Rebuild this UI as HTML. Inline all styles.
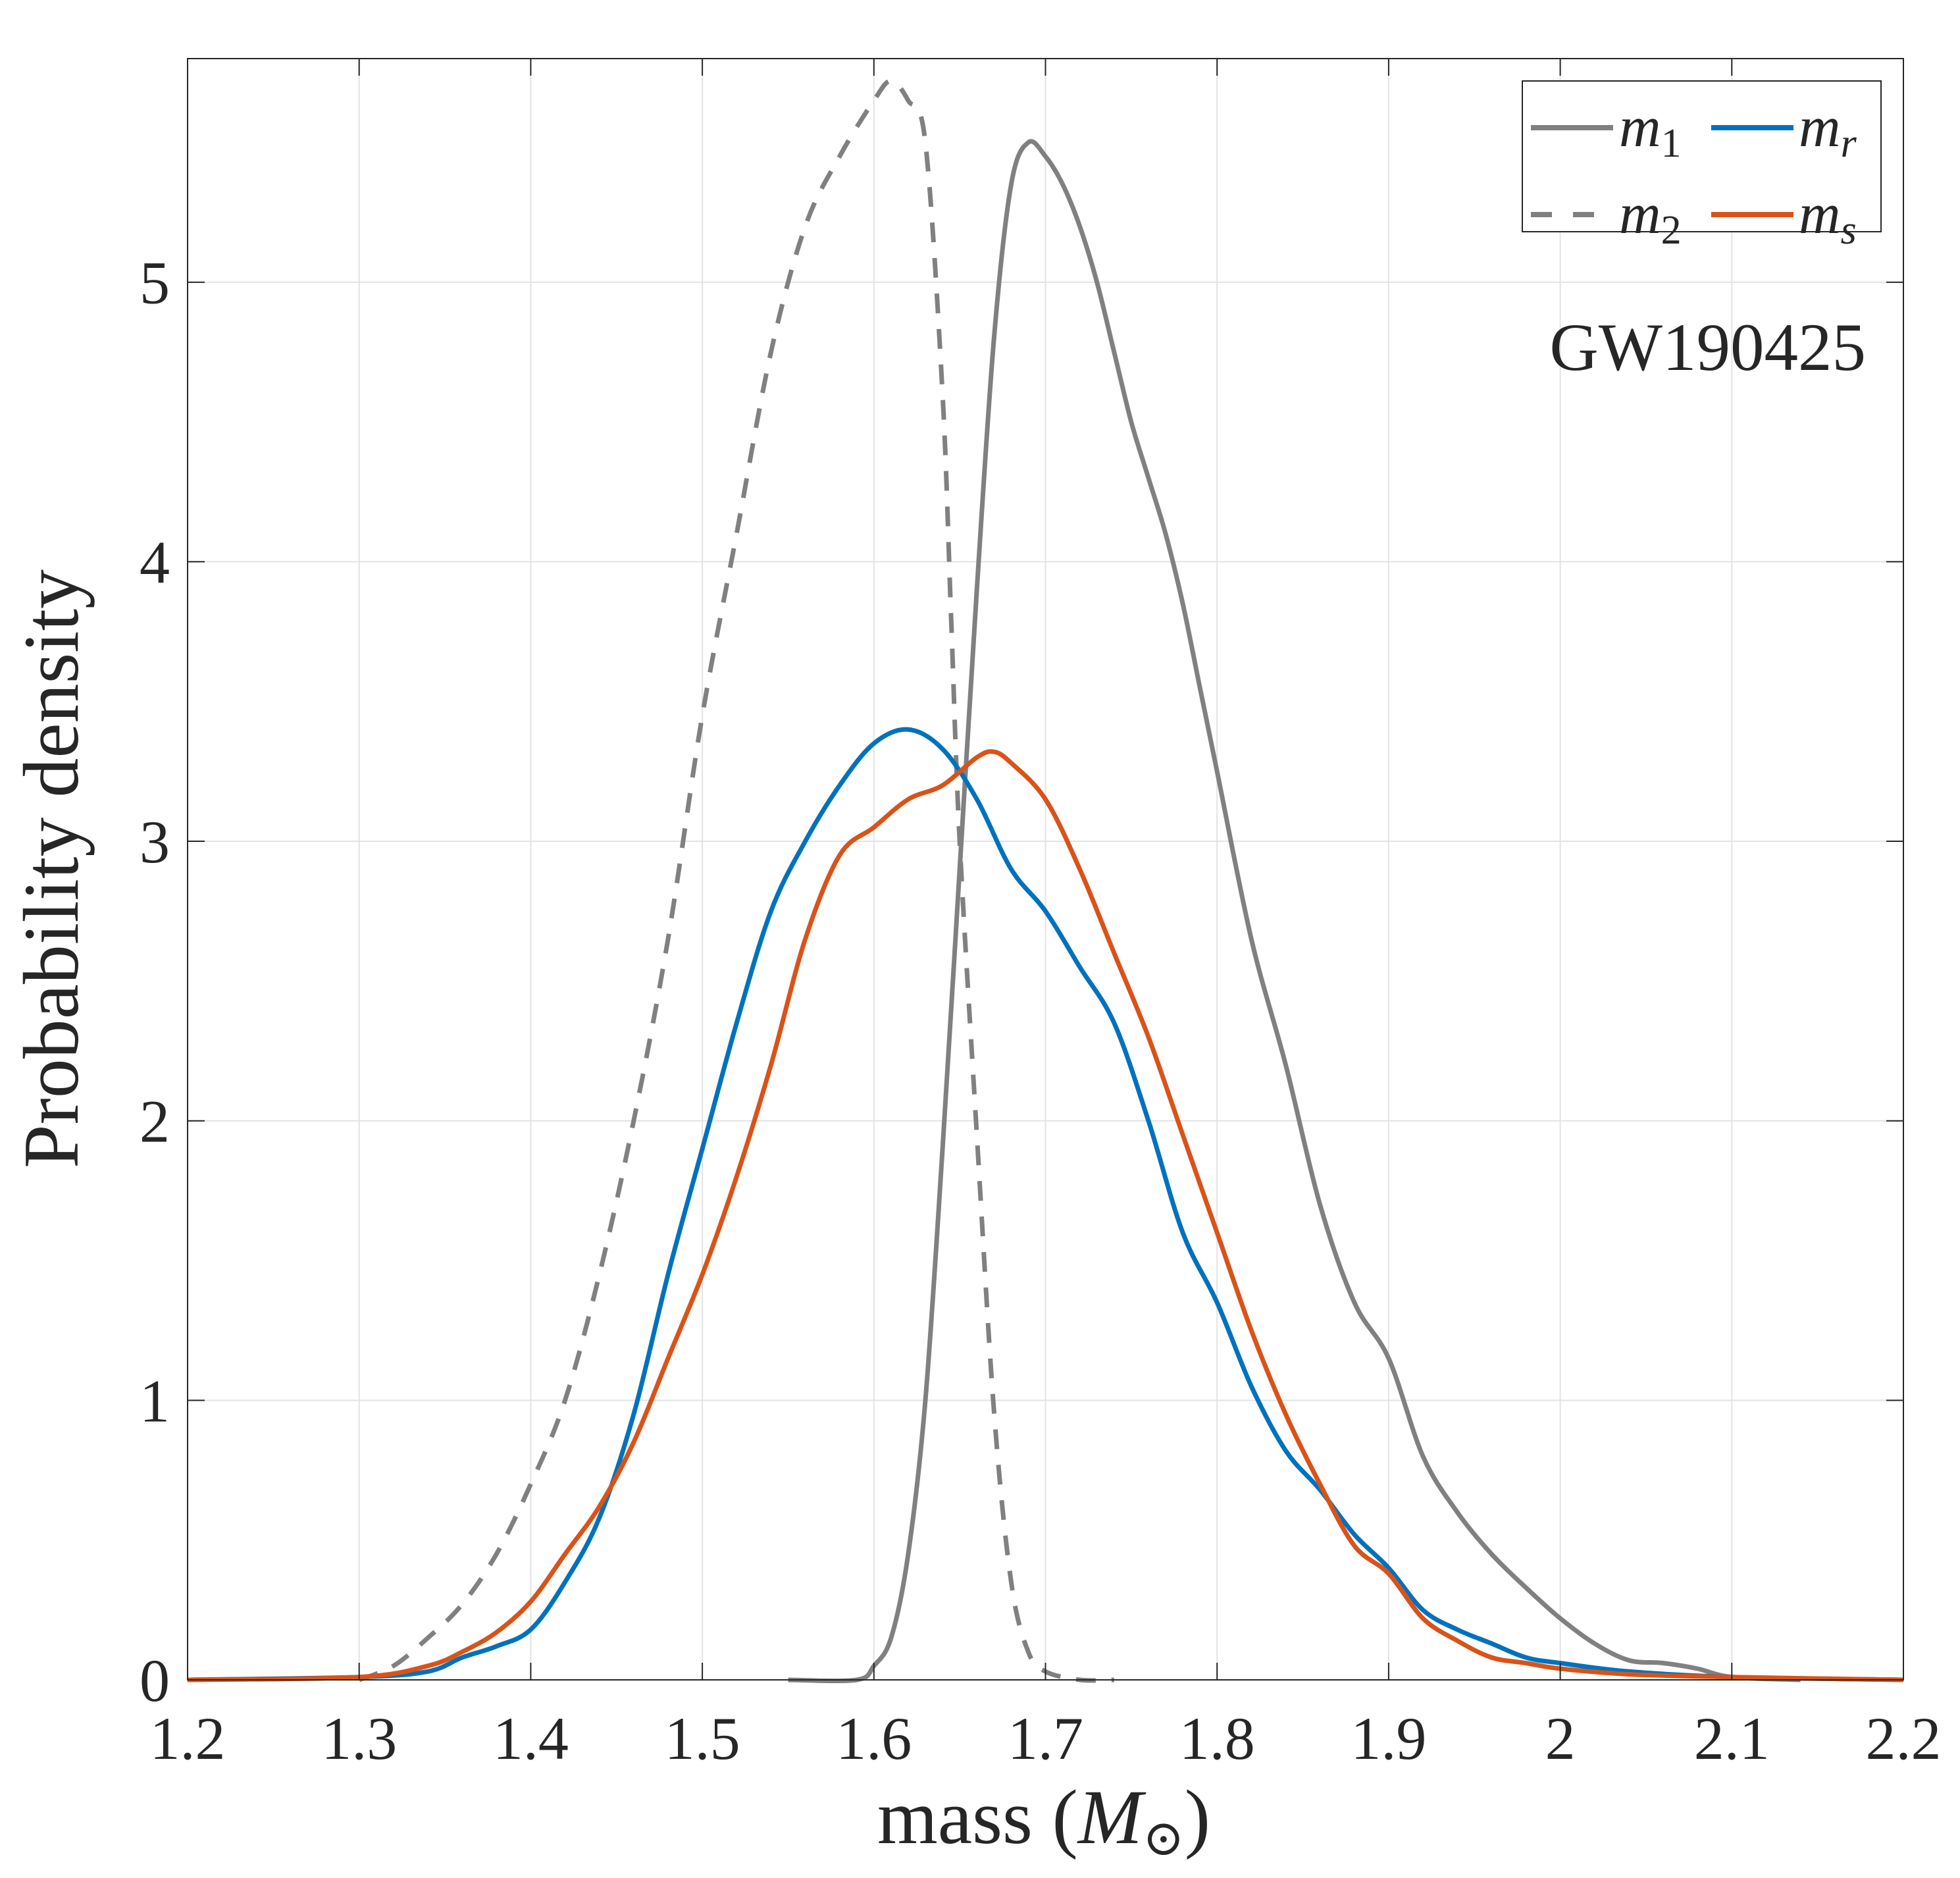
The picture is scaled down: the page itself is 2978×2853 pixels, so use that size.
<!DOCTYPE html>
<html><head><meta charset="utf-8">
<style>
html,body{margin:0;padding:0;background:#fff;}
svg{display:block;}
text{font-family:"Liberation Serif","DejaVu Serif",serif;fill:#262626;}
</style></head>
<body>
<svg id="chart" width="2978" height="2853" viewBox="0 0 2978 2853" xmlns="http://www.w3.org/2000/svg">
<rect x="0" y="0" width="2978" height="2853" fill="#fff"/>
<g id="grid"></g>
<g id="series"></g>
<g id="axes"></g>
<text x="2835" y="562" font-size="103" text-anchor="end">GW190425</text>
<text x="1586" y="2800" font-size="118" text-anchor="middle">mass (<tspan font-style="italic">M</tspan><tspan font-size="76" dy="18">⊙</tspan><tspan dy="-18">)</tspan></text>
<text transform="translate(118,1320) rotate(-90)" font-size="120" text-anchor="middle">Probability density</text>
<g>
<rect x="2313" y="123" width="545" height="229" fill="#fff" stroke="#262626" stroke-width="2"/>
<g>
<line x1="2326" y1="194" x2="2451" y2="194" stroke="#808080" stroke-width="8"/>
<text x="2460" y="222" font-size="88" font-style="italic">m<tspan font-style="normal" font-size="62" dy="16">1</tspan></text>
</g>
<g>
<line x1="2326" y1="326" x2="2451" y2="326" stroke="#808080" stroke-width="8" stroke-dasharray="32,32"/>
<text x="2460" y="354" font-size="88" font-style="italic">m<tspan font-style="normal" font-size="62" dy="16">2</tspan></text>
</g>
<g>
<line x1="2600" y1="194" x2="2725" y2="194" stroke="#0072BD" stroke-width="8"/>
<text x="2733" y="222" font-size="88" font-style="italic">m<tspan font-size="62" dy="16">r</tspan></text>
</g>
<g>
<line x1="2600" y1="326" x2="2725" y2="326" stroke="#D95319" stroke-width="8"/>
<text x="2733" y="354" font-size="88" font-style="italic">m<tspan font-size="62" dy="16">s</tspan></text>
</g>
</g>
</svg>
<script>
const xTicks = [1.2,1.3,1.4,1.5,1.6,1.7,1.8,1.9,2.0,2.1,2.2];
const xTickLabels = ["1.2","1.3","1.4","1.5","1.6","1.7","1.8","1.9","2","2.1","2.2"];
const yTicks = [0,1,2,3,4,5];
const yTickLabels = ["0","1","2","3","4","5"];
const m1X = [1.55,1.59,1.60,1.61,1.62,1.63,1.64,1.65,1.66,1.67,1.68,1.69,1.70,1.71,1.72,1.73,1.74,1.75,1.76,1.77,1.78,1.79,1.80,1.82,1.84,1.86,1.88,1.90,1.92,1.94,1.96,1.98,2.00,2.02,2.04,2.06,2.08,2.10,2.14];
const m1Y = [0,0.0,0.05,0.15,0.45,1.0,1.9,2.9,3.9,4.8,5.35,5.5,5.45,5.35,5.2,5.0,4.75,4.5,4.3,4.1,3.85,3.55,3.25,2.65,2.2,1.7,1.35,1.15,0.8,0.6,0.45,0.33,0.22,0.13,0.07,0.06,0.04,0.01,0];
const m2X = [1.30,1.32,1.34,1.36,1.38,1.40,1.42,1.44,1.46,1.48,1.50,1.52,1.54,1.56,1.58,1.60,1.61,1.62,1.63,1.64,1.645,1.65,1.66,1.67,1.68,1.69,1.70,1.72,1.74];
const m2Y = [0,0.05,0.15,0.27,0.45,0.7,1.0,1.45,2.0,2.65,3.45,4.1,4.75,5.2,5.45,5.65,5.72,5.65,5.5,4.6,3.8,3.0,1.95,0.96,0.35,0.1,0.03,0,0];
const mrX = [1.2,1.30,1.34,1.36,1.38,1.40,1.42,1.44,1.46,1.48,1.50,1.52,1.54,1.56,1.58,1.60,1.62,1.64,1.66,1.68,1.70,1.72,1.74,1.76,1.78,1.80,1.82,1.84,1.86,1.88,1.90,1.92,1.94,1.96,1.98,2.00,2.04,2.10,2.2];
const mrY = [0,0.01,0.03,0.08,0.12,0.18,0.35,0.58,0.95,1.45,1.9,2.35,2.75,3.0,3.2,3.35,3.4,3.33,3.15,2.9,2.75,2.55,2.35,2.0,1.6,1.35,1.05,0.82,0.68,0.52,0.4,0.25,0.18,0.13,0.08,0.06,0.03,0.01,0];
const msX = [1.2,1.30,1.34,1.36,1.38,1.40,1.42,1.44,1.46,1.48,1.50,1.52,1.54,1.56,1.58,1.60,1.62,1.64,1.66,1.67,1.68,1.70,1.72,1.74,1.76,1.78,1.80,1.82,1.84,1.86,1.88,1.90,1.92,1.94,1.96,1.98,2.00,2.04,2.10,2.2];
const msY = [0,0.01,0.05,0.1,0.17,0.28,0.45,0.62,0.85,1.15,1.45,1.8,2.2,2.65,2.95,3.05,3.15,3.2,3.3,3.32,3.28,3.15,2.9,2.6,2.3,1.95,1.6,1.25,0.95,0.7,0.48,0.38,0.22,0.14,0.08,0.06,0.04,0.02,0.01,0];

const L=285,R=2892,T=89,B=2552,XMIN=1.2,XMAX=2.2,YMIN=0,YMAX=5.8;
function sx(v){return L+(v-XMIN)/(XMAX-XMIN)*(R-L);}
function sy(v){return B-(v-YMIN)/(YMAX-YMIN)*(B-T);}
const NS="http://www.w3.org/2000/svg";
function mk(tag,attrs,parent){const e=document.createElementNS(NS,tag);for(const k in attrs)e.setAttribute(k,attrs[k]);parent.appendChild(e);return e;}
const grid=document.getElementById('grid'),axes=document.getElementById('axes'),series=document.getElementById('series');
xTicks.forEach((t,i)=>{
  const g=mk('line',{x1:sx(t),x2:sx(t),y1:T,y2:B,stroke:'#e3e3e3','stroke-width':2},grid);
  
  
  mk('line',{x1:sx(t),x2:sx(t),y1:B,y2:B-26,stroke:'#262626','stroke-width':2},axes);
  mk('line',{x1:sx(t),x2:sx(t),y1:T,y2:T+26,stroke:'#262626','stroke-width':2},axes);
  const tx=mk('text',{x:sx(t),y:2672,'font-size':92,'text-anchor':'middle'},axes);
  tx.textContent=xTickLabels[i];
  
  
});
yTicks.forEach((t,i)=>{
  const g=mk('line',{x1:L,x2:R,y1:sy(t),y2:sy(t),stroke:'#e3e3e3','stroke-width':2},grid);
  
  
  mk('line',{x1:L,x2:L+26,y1:sy(t),y2:sy(t),stroke:'#262626','stroke-width':2},axes);
  mk('line',{x1:R,x2:R-26,y1:sy(t),y2:sy(t),stroke:'#262626','stroke-width':2},axes);
  const tx=mk('text',{x:258,y:sy(t)+32,'font-size':92,'text-anchor':'end'},axes);
  tx.textContent=yTickLabels[i];
  
  
});
const frame=mk('rect',{x:L,y:T,width:R-L,height:B-T,fill:'none',stroke:'#262626','stroke-width':2},axes);


function line(xs,ys,color,dash,name){
  const P=xs.map((x,i)=>[sx(x),sy(ys[i])]);
  let d='M'+P[0][0].toFixed(1)+','+P[0][1].toFixed(1);
  for(let i=0;i<P.length-1;i++){
    const p0=P[Math.max(0,i-1)],p1=P[i],p2=P[i+1],p3=P[Math.min(P.length-1,i+2)];
    const c1=[p1[0]+(p2[0]-p0[0])/6,p1[1]+(p2[1]-p0[1])/6];
    const c2=[p2[0]-(p3[0]-p1[0])/6,p2[1]-(p3[1]-p1[1])/6];
    d+=' C'+c1.map(v=>v.toFixed(1)).join(',')+' '+c2.map(v=>v.toFixed(1)).join(',')+' '+p2.map(v=>v.toFixed(1)).join(',');
  }
  const p=mk('path',{d:d,fill:'none',stroke:color,'stroke-width':7,'stroke-linejoin':'round'},series);
  if(dash)p.setAttribute('stroke-dasharray',dash);
  
  
}
line(m2X,m2Y,'#808080','30,24','m2-line');
line(m1X,m1Y,'#808080',null,'m1-line');
line(mrX,mrY,'#0072BD',null,'mr-line');
line(msX,msY,'#D95319',null,'ms-line');
</script>
</body></html>
